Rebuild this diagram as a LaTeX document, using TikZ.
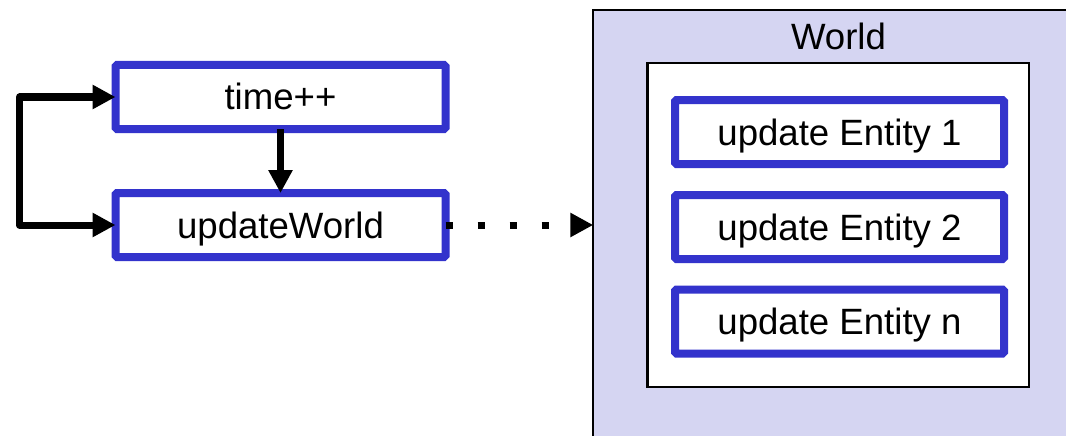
\documentclass[tikz,border=0pt]{standalone}
\usepackage{fontspec}
\setmainfont{Liberation Sans}
\usetikzlibrary{arrows.meta}
\definecolor{boxblue}{HTML}{3333CC}
\definecolor{worldfill}{HTML}{D5D5F2}
\tikzset{
  bluebox/.style={draw=boxblue, line width=8pt, fill=white, minimum width=329pt, minimum height=64pt,
    inner sep=0pt, outer sep=0pt, rounded corners=1.5pt, text height=26pt, text depth=0pt},
  flowarrow/.style={line width=7pt, line join=round, -{Triangle[length=23pt,width=23pt]}},
  dotarrow/.style={line width=7pt, dash pattern=on 7pt off 25pt, -{Triangle[length=23pt,width=23pt]}},
  txt/.style={font=\fontsize{36.6pt}{40pt}\selectfont}
}
\begin{document}
\begin{tikzpicture}[x=1pt,y=-1pt,txt]
\useasboundingbox (0,0) rectangle (1066,436);
\clip (0,0) rectangle (1066,436);
\node[draw=black, fill=worldfill, line width=2.3pt, minimum width=487pt, minimum height=430pt, inner sep=0pt, outer sep=0pt] (world) at (836.75,225) {};
\node[draw=black, fill=white, line width=2.3pt, minimum width=381.7pt, minimum height=323.4pt, inner sep=0pt, outer sep=0pt] (container) at (838.2,225) {};
\node[anchor=base] (worldlabel) at (838.5,50) {World};
\node[bluebox, minimum width=330pt] (time) at (280.5,97) {time++};
\node[bluebox, minimum width=330pt] (uw) at (280.5,225) {updateWorld};
\node[bluebox] (e1) at (839.5,132) {update Entity 1};
\node[bluebox] (e2) at (839.5,227) {update Entity 2};
\node[bluebox] (en) at (839.5,321.5) {update Entity n};
\draw[flowarrow] (time.south) -- (uw.north);
\draw[line width=7pt, line join=round, {Triangle[length=23pt,width=23pt]}-{Triangle[length=23pt,width=23pt]}] (time.west) -- ++(-96,0) |- (uw.west);
\draw[dotarrow] (uw.east) -- (world.west);
\end{tikzpicture}
\end{document}
